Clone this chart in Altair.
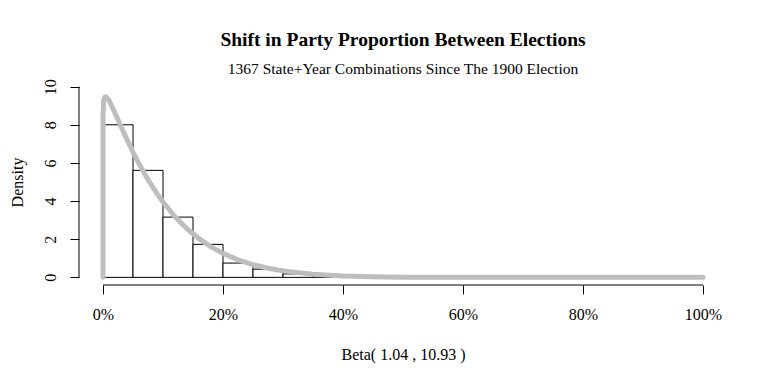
import altair as alt
import pandas as pd

# Histogram (density scale), 5% bins
bin_start = [0.00, 0.05, 0.10, 0.15, 0.20, 0.25, 0.30, 0.35, 0.40, 0.45, 0.50]
bin_end = [0.05, 0.10, 0.15, 0.20, 0.25, 0.30, 0.35, 0.40, 0.45, 0.50, 0.55]
bin_density = [8.00, 5.61, 3.16, 1.73, 0.75, 0.43, 0.18, 0.09, 0.04, 0.015, 0.015]

# Fitted density curve
curve_x = [0.0, 0.0001, 0.001, 0.003, 0.006, 0.01, 0.02, 0.03, 0.04, 0.05, 0.06,
           0.07, 0.08, 0.09, 0.10, 0.12, 0.14, 0.16, 0.18, 0.20, 0.225, 0.25,
           0.275, 0.30, 0.35, 0.40, 0.45, 0.50, 0.55, 0.60, 0.70, 0.80, 0.90, 1.00]
curve_d = [0.0, 8.50, 9.26, 9.45, 9.45, 9.28, 8.62, 7.91, 7.22, 6.57, 5.96,
           5.39, 4.87, 4.39, 3.95, 3.18, 2.55, 2.03, 1.60, 1.26, 0.92, 0.67,
           0.48, 0.34, 0.164, 0.075, 0.031, 0.012, 0.004, 0.001, 0.0, 0.0, 0.0, 0.0]

x_ticks = [0.0, 0.2, 0.4, 0.6, 0.8, 1.0]
y_ticks = [0, 2, 4, 6, 8, 10]

FONT = "Liberation Serif"
W, H = 648, 206

bars_df = pd.DataFrame({"start": bin_start, "end": bin_end, "density": bin_density})
curve_df = pd.DataFrame({"x": curve_x, "d": curve_d})
yline_df = pd.DataFrame({"lo": [y_ticks[0]], "hi": [y_ticks[-1]]})
xline_df = pd.DataFrame({"lo": [x_ticks[0]], "hi": [x_ticks[-1]]})

xscale = alt.Scale(domain=[-0.04, 1.04], nice=False, zero=False)
yscale = alt.Scale(domain=[-0.4, 10.4], nice=False, zero=False)

xaxis = alt.Axis(
    values=x_ticks, format=".0%", domain=False, grid=False,
    tickSize=9, tickColor="black", tickWidth=1,
    labelFont=FONT, labelFontSize=16, labelColor="black",
    labelBaseline="alphabetic", labelPadding=25, labelFlush=False,
    title="Beta( 1.04 , 10.93 )", titleFont=FONT, titleFontSize=16,
    titleFontWeight="normal", titleColor="black",
    titleX=W / 2, titleY=74, titleAlign="center", titleBaseline="alphabetic",
)
yaxis = alt.Axis(
    values=y_ticks, format="d", domain=False, grid=False,
    tickSize=9, tickColor="black", tickWidth=1,
    labelFont=FONT, labelFontSize=16, labelColor="black",
    labelAngle=270, labelAlign="center", labelBaseline="alphabetic",
    labelPadding=15, labelFlush=False,
    title="Density", titleFont=FONT, titleFontSize=16,
    titleFontWeight="normal", titleColor="black",
    titleAngle=270, titleAlign="center", titleBaseline="alphabetic",
    titleX=-56.5, titleY=H / 2,
)

bars = alt.Chart(bars_df).mark_rect(
    fill="white", stroke="black", strokeWidth=1
).encode(
    x=alt.X("start:Q", scale=xscale, axis=xaxis),
    x2="end:Q",
    y=alt.Y("density:Q", scale=yscale, axis=yaxis),
    y2=alt.datum(0),
)

curve = alt.Chart(curve_df).mark_line(
    color="#BEBEBE", strokeWidth=5, strokeCap="round", strokeJoin="round"
).encode(
    x=alt.X("x:Q", scale=xscale),
    y=alt.Y("d:Q", scale=yscale),
)

yline = alt.Chart(yline_df).mark_rule(color="black", strokeWidth=1).encode(
    x=alt.value(0),
    y=alt.Y("lo:Q", scale=yscale),
    y2="hi:Q",
)
xline = alt.Chart(xline_df).mark_rule(color="black", strokeWidth=1).encode(
    y=alt.value(H),
    x=alt.X("lo:Q", scale=xscale),
    x2="hi:Q",
)

chart = alt.layer(bars, curve, yline, xline).properties(
    width=W,
    height=H,
    title=alt.TitleParams(
        text="Shift in Party Proportion Between Elections",
        subtitle="1367 State+Year Combinations Since The 1900 Election",
        font=FONT, fontSize=19.5, fontWeight="bold", color="black",
        subtitleFont=FONT, subtitleFontSize=15.5, subtitleColor="black",
        subtitleFontWeight="normal",
        anchor="middle", offset=0, subtitlePadding=12,
    ),
    autosize=alt.AutoSizeParams(type="none"),
    padding={"left": 71, "top": 71, "right": 33, "bottom": 82},
    background="white",
).configure_view(stroke=None)

chart.save("out.html", embed_options={"renderer": "svg", "actions": False})
